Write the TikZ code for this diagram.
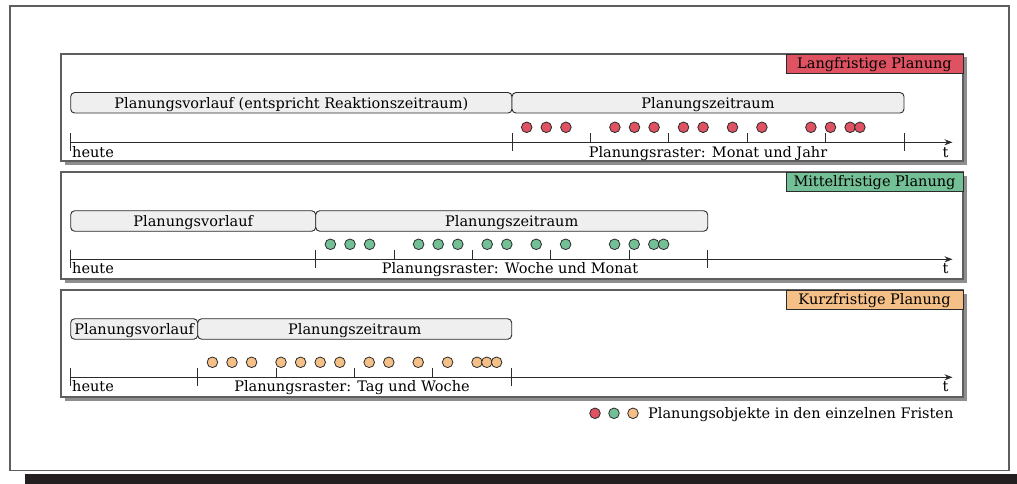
\documentclass[tikz,border=0pt]{standalone}
\usepackage{fontspec}
\setmainfont{DejaVu Serif}
\usetikzlibrary{shadows,arrows.meta}
\definecolor{lang}{HTML}{DE5262}
\definecolor{mittel}{HTML}{73C096}
\definecolor{kurz}{HTML}{F5C087}
\definecolor{rim}{HTML}{5E5E5E}
\definecolor{ink}{HTML}{2B2B2B}
\definecolor{barfill}{HTML}{EFEFEF}
\definecolor{shade}{HTML}{8E8E8E}
\definecolor{bottombar}{HTML}{231F20}

\begin{document}
\begin{tikzpicture}[x=1pt,y=-1pt,
  font=\fontsize{14.5}{17}\selectfont,
  panel/.style={draw=rim, line width=1.3pt, fill=white, inner sep=0pt, outer sep=0pt,
    minimum width=902pt, minimum height=107pt,
    drop shadow={shadow xshift=3.5pt, shadow yshift=-3.5pt, fill=shade, opacity=1}},
  title/.style={draw=ink, line width=0.9pt, inner sep=0pt, outer sep=0pt, anchor=north east,
    minimum width=177pt, minimum height=19pt, text height=10.6pt, text depth=0pt},
  span/.style={draw=ink, fill=barfill, line width=0.9pt, rounded corners=4pt, inner sep=0pt,
    outer sep=0pt, minimum height=20.5pt, text height=10.6pt, text depth=0pt, anchor=west},
  dot/.style={circle, draw=ink, line width=0.8pt, minimum size=10.6pt, inner sep=0pt},
  axisline/.style={draw=ink, line width=1pt, -{Stealth[length=8pt,width=6pt]}},
  tick/.style={draw=ink, line width=0.9pt},
  lbl/.style={inner sep=0pt, anchor=base west},
  midlbl/.style={inner sep=0pt, anchor=base}]

\useasboundingbox (0,0) rectangle (1017,484);

% outer frame and the dark strip beneath it
\fill[bottombar] (25,474) rectangle (1017,484);
\draw[rim, line width=1.3pt] (10,6) rectangle (1009,470.7);

% three planning horizons
\node[panel] (p1) at (512,107.5) {};
\node[panel] (p2) at (512,225.5) {};
\node[panel] (p3) at (512,343.5) {};

\node[title, fill=lang]   (t1) at (p1.north east) {Langfristige Planung};
\node[title, fill=mittel] (t2) at (p2.north east) {Mittelfristige Planung};
\node[title, fill=kurz]   (t3) at (p3.north east) {Kurzfristige Planung};

% ---- long-term ----
\node[span, minimum width=441.3pt] (v1) at (70.7,102.8) {Planungsvorlauf (entspricht Reaktionszeitraum)};
\node[span, minimum width=392pt]   (z1) at (512,102.8) {Planungszeitraum};
\coordinate (a1s) at (70.7,142.3);
\coordinate (a1e) at (952.5,142.3);
\draw[axisline] (a1s) -- (a1e);
\foreach \x in {70.7,512,904} \draw[tick] (\x,132.8) -- (\x,151);
\foreach \k in {1,...,4} \draw[tick] (512+\k*78.4,142.3) -- ++(0,-9);
\foreach \k [count=\j] in {3,7,11,21,25,29,35,39,45,51,61,65,69,71}
  \node[dot, fill=lang] (d1-\j) at (512+\k*4.9,127.3) {};
\node[lbl] (h1) at (72,157.7) {heute};
\node[midlbl] (r1) at (708,157.7) {Planungsraster: Monat und Jahr};
\node[midlbl] (e1) at (945.5,157.7) {t};

% ---- medium-term ----
\node[span, minimum width=245pt] (v2) at (70.7,221) {Planungsvorlauf};
\node[span, minimum width=392pt] (z2) at (315.7,221) {Planungszeitraum};
\coordinate (a2s) at (70.7,259.3);
\coordinate (a2e) at (952.5,259.3);
\draw[axisline] (a2s) -- (a2e);
\foreach \x in {70.7,315.7,707.7} \draw[tick] (\x,249.8) -- (\x,268);
\foreach \k in {1,...,4} \draw[tick] (315.7+\k*78.4,259.3) -- ++(0,-9);
\foreach \k [count=\j] in {3,7,11,21,25,29,35,39,45,51,61,65,69,71}
  \node[dot, fill=mittel] (d2-\j) at (315.7+\k*4.9,244.3) {};
\node[lbl] (h2) at (72,273.7) {heute};
\node[midlbl] (r2) at (510,273.7) {Planungsraster: Woche und Monat};
\node[midlbl] (e2) at (945.5,273.7) {t};

% ---- short-term ----
\node[span, minimum width=127pt] (v3) at (70.7,329) {Planungsvorlauf};
\node[span, minimum width=314pt] (z3) at (197.7,329) {Planungszeitraum};
\coordinate (a3s) at (70.7,377.3);
\coordinate (a3e) at (952.5,377.3);
\draw[axisline] (a3s) -- (a3e);
\foreach \x in {70.7,197.7,511.7} \draw[tick] (\x,367.8) -- (\x,386);
\foreach \k in {1,...,3} \draw[tick] (197.7+\k*78.4,377.3) -- ++(0,-9);
\foreach \k [count=\j] in {3,7,11,17,21,25,29,35,39,45,51,57,59,61}
  \node[dot, fill=kurz] (d3-\j) at (197.7+\k*4.9,362.3) {};
\node[lbl] (h3) at (72,391.7) {heute};
\node[midlbl] (r3) at (352,391.7) {Planungsraster: Tag und Woche};
\node[midlbl] (e3) at (945.5,391.7) {t};

% legend
\node[dot, fill=lang]   (l1) at (595,413.3) {};
\node[dot, fill=mittel] (l2) at (614,413.3) {};
\node[dot, fill=kurz]   (l3) at (633,413.3) {};
\node[lbl] (lt) at (648,418.5) {Planungsobjekte in den einzelnen Fristen};
\end{tikzpicture}
\end{document}
